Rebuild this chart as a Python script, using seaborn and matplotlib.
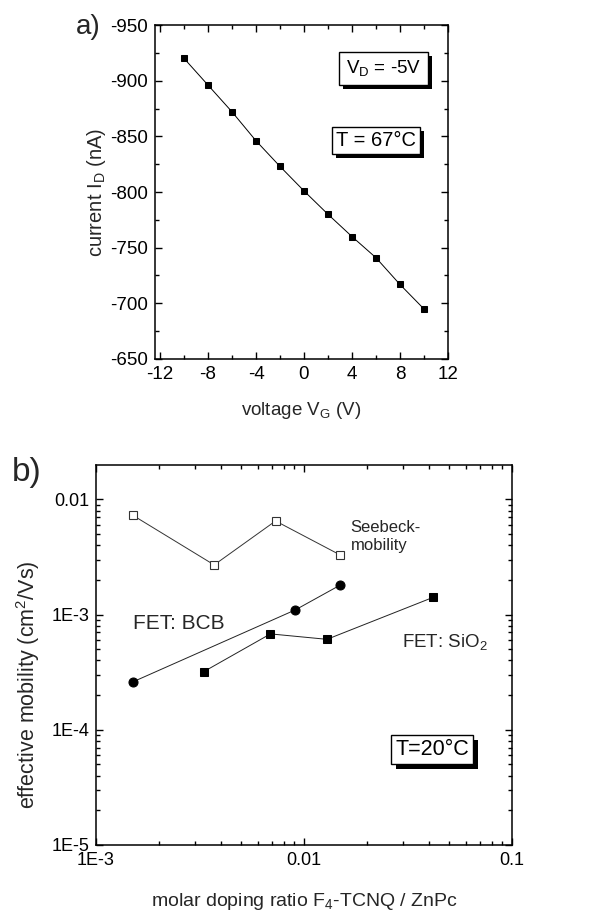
import numpy as np
import pandas as pd
import matplotlib
matplotlib.use("Agg")
import matplotlib.pyplot as plt
import matplotlib.patheffects as pe
from matplotlib.ticker import MultipleLocator, LogLocator, FixedLocator, FixedFormatter, NullFormatter
import seaborn as sns

# ---------------- data ----------------
gate_voltage = [-10, -8, -6, -4, -2, 0, 2, 4, 6, 8, 10]
drain_current = [-920, -896, -872, -846, -823, -801, -780, -760, -741, -717, -695]

seebeck_ratio = [0.0015, 0.0037, 0.0073, 0.0149]
seebeck_mob = [0.0073, 0.0027, 0.0065, 0.0033]

bcb_ratio = [0.0015, 0.0091, 0.0149]
bcb_mob = [0.00026, 0.0011, 0.0018]

sio2_ratio = [0.0033, 0.0069, 0.0129, 0.0417]
sio2_mob = [0.00032, 0.00068, 0.00061, 0.00141]

x_ticks_b = [1e-3, 1e-2, 1e-1]
x_ticklabels_b = ["1E-3", "0.01", "0.1"]
y_ticks_b = [1e-5, 1e-4, 1e-3, 1e-2]
y_ticklabels_b = ["1E-5", "1E-4", "1E-3", "0.01"]

# ---------------- style ----------------
sns.set_theme(style="ticks")
plt.rcParams['font.family'] = ['Liberation Sans', 'DejaVu Sans']
plt.rcParams['mathtext.fontset'] = 'custom'
plt.rcParams['mathtext.rm'] = 'Liberation Sans'
plt.rcParams['mathtext.it'] = 'Liberation Sans'
plt.rcParams['axes.unicode_minus'] = False
plt.rcParams['axes.linewidth'] = 1.1
plt.rcParams['axes.edgecolor'] = 'black'

fig = plt.figure(figsize=(5.94, 9.13), dpi=100)
ax1 = fig.add_axes([0.261, 0.6068, 0.493, 0.3658])
ax2 = fig.add_axes([0.1616, 0.0745, 0.7003, 0.4162])


def style_ticks(ax, size):
    ax.tick_params(which='both', direction='in', top=True, right=True,
                   color='black', labelsize=size, labelcolor='black', width=1.0)
    ax.tick_params(which='major', length=5, pad=5)
    ax.tick_params(which='minor', length=3)


def shadow_box(ax, x, y, s, fs, pad=0.35, off=3.0):
    t = ax.text(x, y, s, transform=ax.transAxes, ha='center', va='center', fontsize=fs,
                color='black', zorder=6,
                bbox=dict(boxstyle=f'square,pad={pad}', fc='white', ec='black', lw=1))
    t.get_bbox_patch().set_path_effects([
        pe.SimplePatchShadow(offset=(off, -off), shadow_rgbFace='black', alpha=1.0),
        pe.Normal()])
    return t


# ---------------- panel a ----------------
df_a = pd.DataFrame({"V": gate_voltage, "I": drain_current})
sns.lineplot(data=df_a, x="V", y="I", ax=ax1, color='black', lw=0.7,
             marker='s', markersize=4.5, markeredgecolor='black', markerfacecolor='black')
ax1.set_xlim(-12.42, 12)
ax1.set_ylim(-650, -950)
ax1.xaxis.set_major_locator(MultipleLocator(4))
ax1.xaxis.set_minor_locator(MultipleLocator(2))
ax1.yaxis.set_major_locator(MultipleLocator(50))
ax1.yaxis.set_minor_locator(MultipleLocator(25))
style_ticks(ax1, 13.5)
ax1.set_xlabel("voltage V$_\\mathregular{G}$ (V)", fontsize=13.5, labelpad=12)
ax1.set_ylabel("current I$_\\mathregular{D}$ (nA)", fontsize=14.5)
ax1.yaxis.set_label_coords(-0.162, 0.5)
for sp in ax1.spines.values():
    sp.set_visible(True)
shadow_box(ax1, 0.78, 0.87, "V$_\\mathregular{D}$ = -5V", 13.5, pad=0.35)
shadow_box(ax1, 0.753, 0.654, "T = 67°C", 14.5, pad=0.2)

# ---------------- panel b ----------------
df_s = pd.DataFrame({"x": seebeck_ratio, "y": seebeck_mob})
df_b = pd.DataFrame({"x": bcb_ratio, "y": bcb_mob})
df_o = pd.DataFrame({"x": sio2_ratio, "y": sio2_mob})
sns.lineplot(data=df_s, x="x", y="y", ax=ax2, color='#333333', lw=0.7, marker='s',
             markersize=5.5, markerfacecolor='white', markeredgecolor='#333333', markeredgewidth=0.8)
sns.lineplot(data=df_b, x="x", y="y", ax=ax2, color='#222222', lw=0.7, marker='o',
             markersize=6.5, markerfacecolor='black', markeredgecolor='black')
sns.lineplot(data=df_o, x="x", y="y", ax=ax2, color='#222222', lw=0.7, marker='s',
             markersize=5.5, markerfacecolor='black', markeredgecolor='black')
ax2.set_xscale('log')
ax2.set_yscale('log')
ax2.set_xlim(1e-3, 1e-1)
ax2.set_ylim(1e-5, 0.0199)
ax2.xaxis.set_major_locator(FixedLocator(x_ticks_b))
ax2.xaxis.set_major_formatter(FixedFormatter(x_ticklabels_b))
ax2.yaxis.set_major_locator(FixedLocator(y_ticks_b))
ax2.yaxis.set_major_formatter(FixedFormatter(y_ticklabels_b))
ax2.xaxis.set_minor_locator(LogLocator(base=10, subs=np.arange(2, 10), numticks=20))
ax2.yaxis.set_minor_locator(LogLocator(base=10, subs=np.arange(2, 10), numticks=20))
ax2.xaxis.set_minor_formatter(NullFormatter())
ax2.yaxis.set_minor_formatter(NullFormatter())
style_ticks(ax2, 13)
ax2.set_xlabel("molar doping ratio F$_\\mathregular{4}$-TCNQ / ZnPc", fontsize=14, labelpad=16)
ax2.set_ylabel("effective mobility (cm$^\\mathregular{2}$/Vs)", fontsize=15.5)
ax2.yaxis.set_label_coords(-0.13, 0.421)
for sp in ax2.spines.values():
    sp.set_visible(True)

ax2.text(0.612, 0.813, "Seebeck-\nmobility", transform=ax2.transAxes, ha='left',
         va='center', fontsize=12, linespacing=1.25)
ax2.text(0.089, 0.5816, "FET: BCB", transform=ax2.transAxes, ha='left', va='center', fontsize=15)
ax2.text(0.7356, 0.535, "FET: SiO$_\\mathregular{2}$", transform=ax2.transAxes, ha='left',
         va='center', fontsize=13.5)
shadow_box(ax2, 0.808, 0.251, "T=20°C", 15.5, pad=0.2, off=3.6)

# panel letters
fig.text(0.128, 0.970, "a)", fontsize=20, ha='left', va='center')
fig.text(0.020, 0.483, "b)", fontsize=24, ha='left', va='center')

fig.savefig("out.png", dpi=100)
